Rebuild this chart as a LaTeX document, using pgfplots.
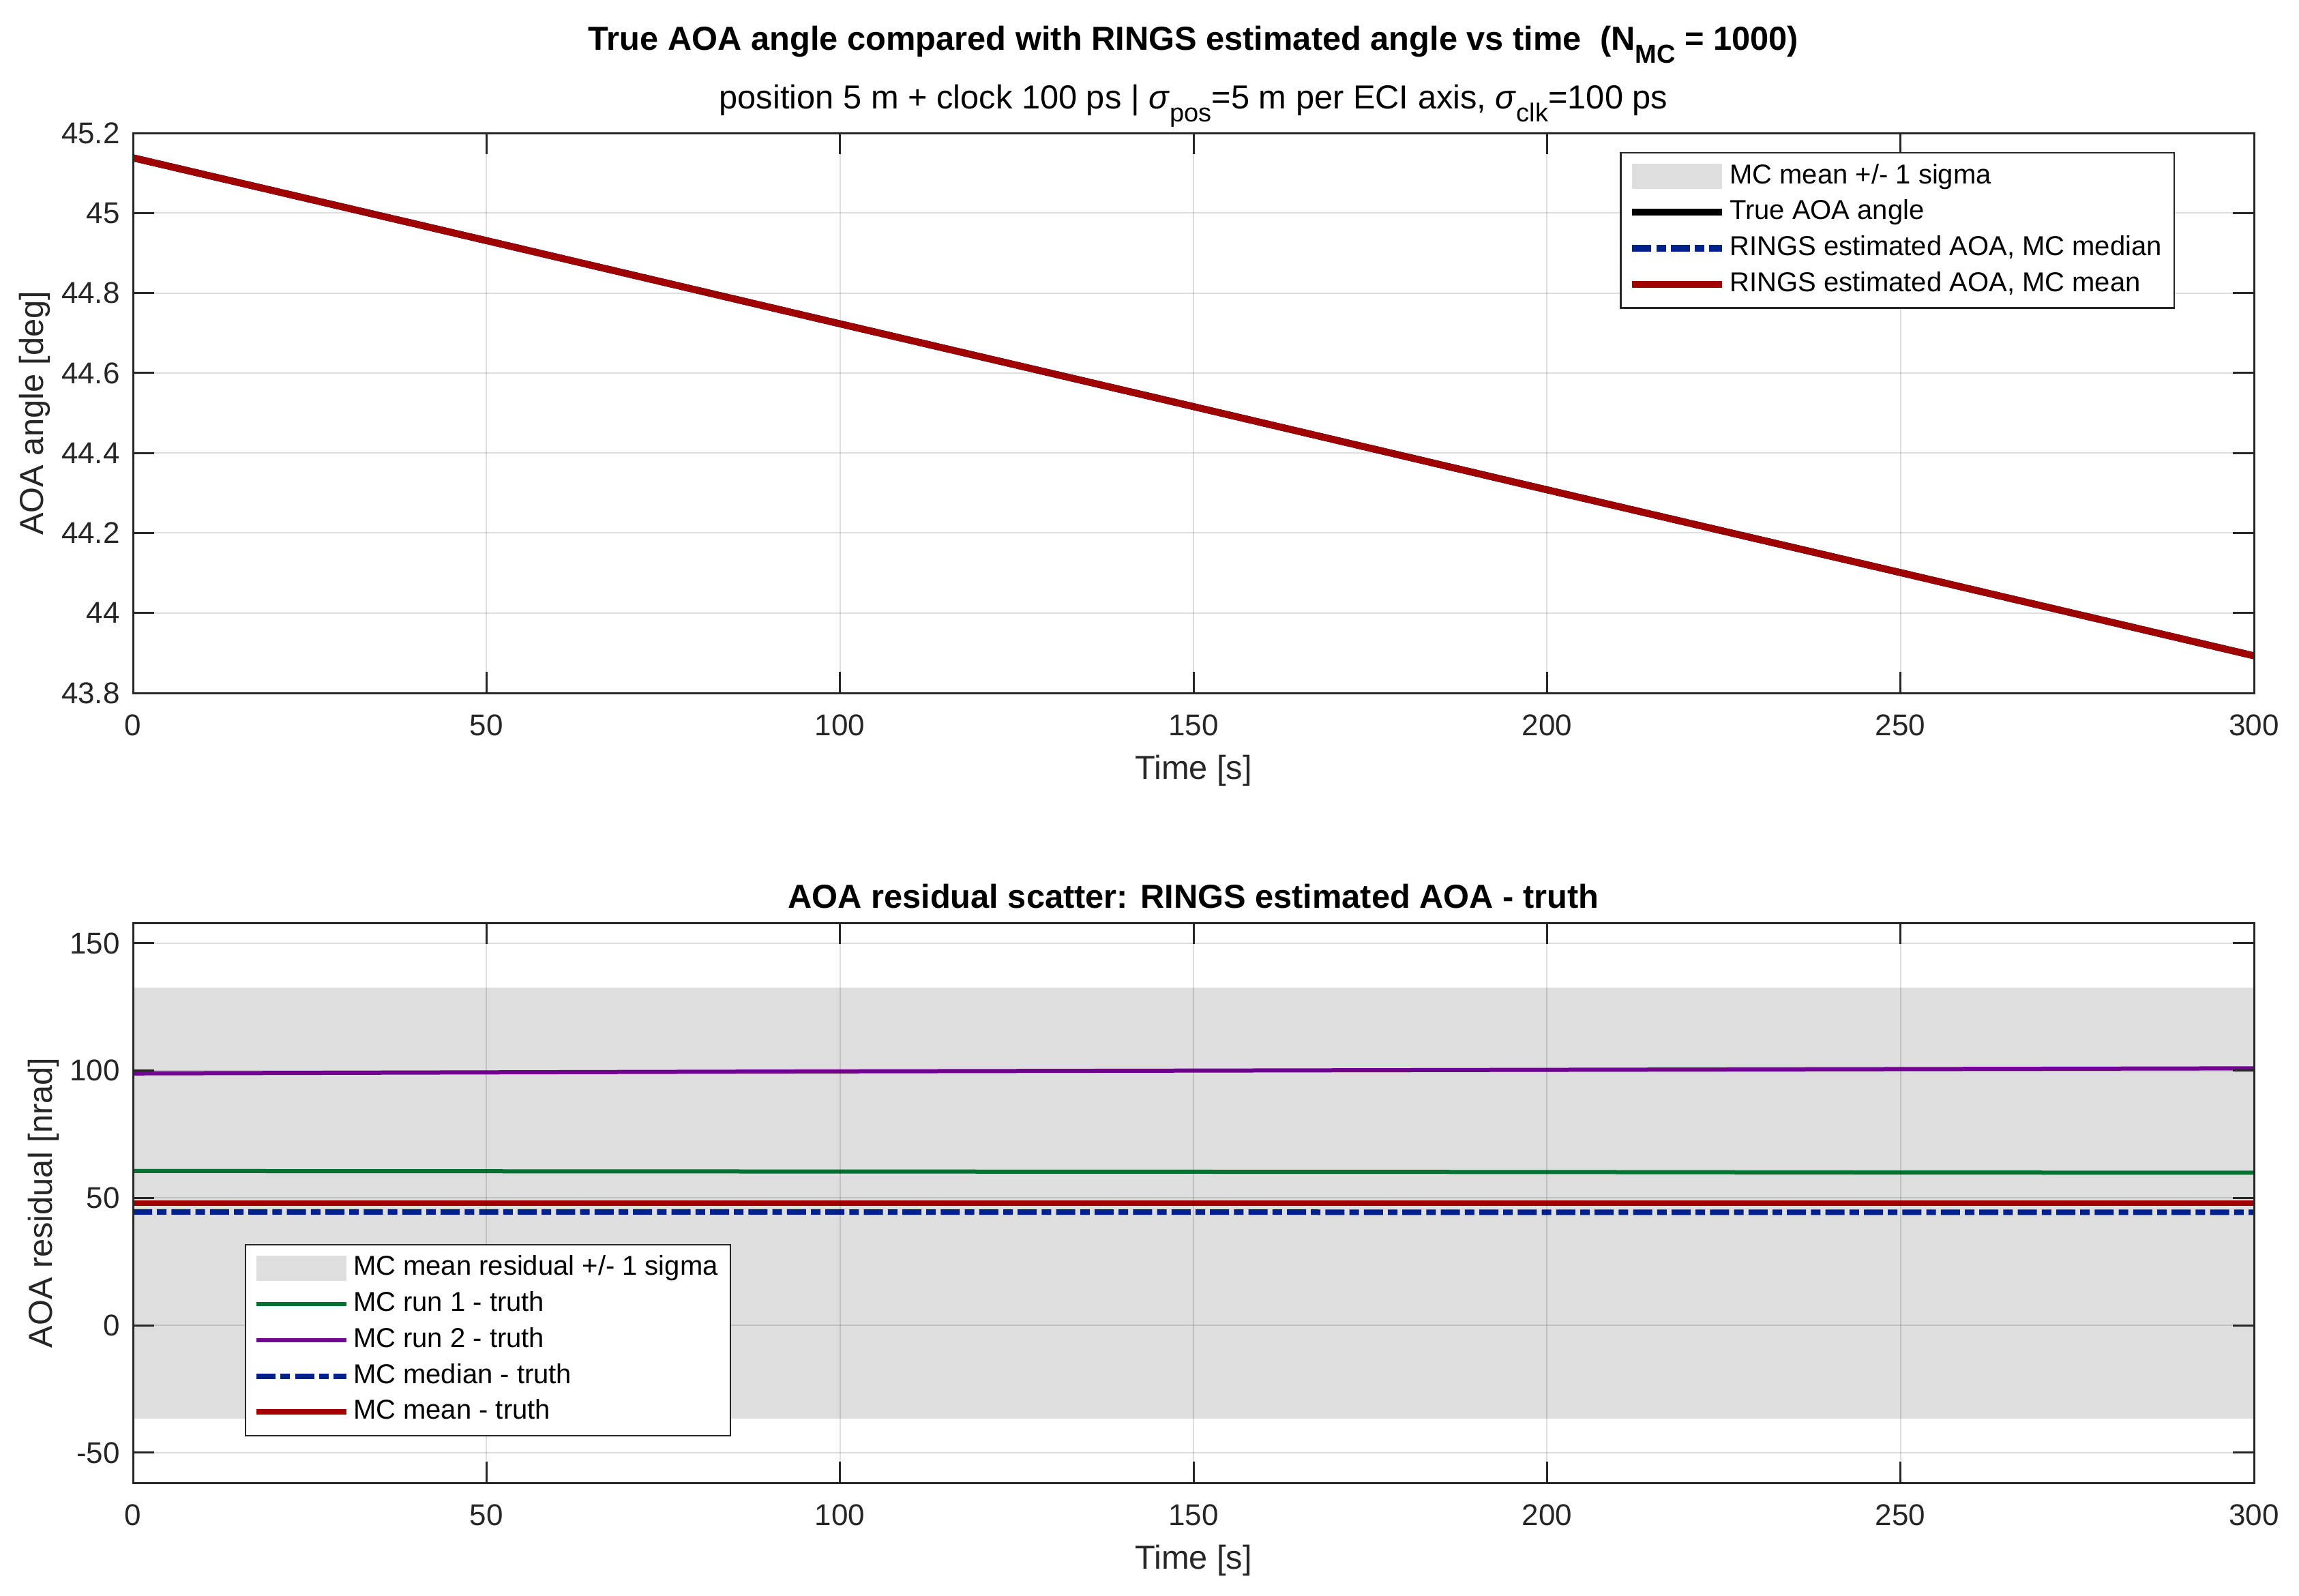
\documentclass[border=0pt]{standalone}
\usepackage{fontspec}
\setmainfont{Liberation Sans}
\usepackage{pgfplots}
\pgfplotsset{compat=1.18}

\definecolor{mred}{RGB}{160,0,0}
\definecolor{mblue}{RGB}{0,32,140}
\definecolor{mgreen}{RGB}{0,115,51}
\definecolor{mpurple}{RGB}{117,0,150}
\definecolor{bandgray}{RGB}{222,222,222}
\definecolor{axgray}{RGB}{38,38,38}

% MATLAB-like subscript
\newcommand{\msub}[1]{\raisebox{-0.4em}{\fontsize{9.5}{10}\selectfont #1}}

\pgfplotsset{
  matlab/.style={
    scale only axis, width=777.5pt, height=205.25pt,
    xmin=0, xmax=300, xtick={0,50,...,300},
    axis line style={draw=axgray, line width=0.75pt},
    tick style={draw=axgray, line width=0.75pt},
    tick align=inside, major tick length=7.8pt,
    grid=major,
    major grid style={draw=black, draw opacity=0.13, line width=0.5pt},
    axis on top,
    /pgf/number format/assume math mode=true,
    ticklabel style={font=\fontsize{11}{13}\selectfont, text=axgray},
    xticklabel style={yshift=-4.4pt},
    yticklabel style={xshift=-1.3pt},
    label style={font=\fontsize{12.2}{14}\selectfont, text=axgray},
    xlabel style={at={(axis description cs:0.5,0)}, anchor=center, yshift=-28.5pt},
    legend cell align=left,
    legend style={font=\fontsize{10}{12}\selectfont, draw=axgray, line width=0.6pt,
      fill=white, inner xsep=3pt, inner ysep=2pt, row sep=0pt,
      nodes={text height=7.2pt, text depth=2pt, inner ysep=2pt, inner xsep=1.5pt}},
    legend image code/.code={\draw[#1] (0pt,0pt) -- (33pt,0pt);},
  },
  dashdot/.style={dash pattern=on 7pt off 1.8pt on 3.5pt off 1.8pt},
  bandlegend/.style={legend image code/.code={\fill[bandgray] (0pt,-4.65pt) rectangle (33pt,4.65pt);}},
}

\begin{document}
\begin{tikzpicture}
\path[use as bounding box] (0,0) rectangle (842.75pt,-584.75pt);

% ---------- top: AOA angle ----------
\begin{axis}[matlab,
    at={(48.75pt,-48.75pt)}, anchor=north west,
    ymin=43.8, ymax=45.2,
    ytick={43.8,44,44.2,44.4,44.6,44.8,45,45.2},
    xlabel={Time [s]},
    ylabel={AOA angle [deg]},
    ylabel style={at={([xshift=-36pt]axis description cs:0,0.5)}, anchor=center},
    legend style={at={(axis description cs:0.9627,0.9659)}, anchor=north east},
    extra description/.code={
      \node[anchor=base, font=\bfseries\fontsize{12.2}{14}\selectfont]
        at ([yshift=30.5pt]axis description cs:0.5,1)
        {True AOA angle compared with RINGS estimated angle vs time\ \ (N\msub{MC} = 1000)};
      \node[anchor=base, font=\fontsize{12.2}{14}\selectfont]
        at ([yshift=9pt]axis description cs:0.5,1)
        {position 5 m + clock 100 ps | \textit{σ}\msub{pos}=5 m per ECI axis, \textit{σ}\msub{clk}=100 ps};
    },
]
\addplot[draw=none, fill=bandgray, bandlegend] coordinates {
  (0,45.138005) (300,43.893005) (300,43.892995) (0,45.137995)} -- cycle;
\addlegendentry{MC mean +/- 1 sigma}
\addplot[black, line width=2.5pt] coordinates {
  (0,45.138) (50,44.931) (100,44.723) (150,44.516) (200,44.308) (250,44.101) (300,43.893)};
\addlegendentry{True AOA angle}
\addplot[mblue, line width=2.5pt, dashdot] coordinates {
  (0,45.138) (50,44.931) (100,44.723) (150,44.516) (200,44.308) (250,44.101) (300,43.893)};
\addlegendentry{RINGS estimated AOA, MC median}
\addplot[mred, line width=2.5pt] coordinates {
  (0,45.138) (50,44.931) (100,44.723) (150,44.516) (200,44.308) (250,44.101) (300,43.893)};
\addlegendentry{RINGS estimated AOA, MC mean}
\end{axis}

% ---------- bottom: residuals ----------
\begin{axis}[matlab,
    at={(48.75pt,-338.25pt)}, anchor=north west,
    ymin=-61.8, ymax=158,
    ytick={-50,0,50,100,150},
    xlabel={Time [s]},
    ylabel={AOA residual [nrad]},
    ylabel style={at={([xshift=-32.75pt]axis description cs:0,0.5)}, anchor=center},
    legend style={at={(axis description cs:0.0527,0.0828)}, anchor=south west},
    extra description/.code={
      \node[anchor=base, font=\bfseries\fontsize{12.2}{14}\selectfont]
        at ([yshift=5.5pt]axis description cs:0.5,1)
        {AOA residual scatter: RINGS estimated AOA - truth};
    },
]
\addplot[draw=none, fill=bandgray, bandlegend] coordinates {
  (0,132.6) (300,132.6) (300,-36.5) (0,-36.5)} -- cycle;
\addlegendentry{MC mean residual +/- 1 sigma}
\addplot[mgreen, line width=1.5pt] coordinates {
  (0,60.6) (50,60.5) (100,60.4) (150,60.3) (200,60.2) (250,60.0) (300,59.9)};
\addlegendentry{MC run 1 - truth}
\addplot[mpurple, line width=1.5pt] coordinates {
  (0,98.9) (50,99.3) (100,99.7) (150,100.0) (200,100.3) (250,100.6) (300,100.9)};
\addlegendentry{MC run 2 - truth}
\addplot[mblue, line width=2pt, dashdot] coordinates {
  (0,44.5) (50,44.5) (100,44.5) (150,44.45) (200,44.4) (250,44.4) (300,44.4)};
\addlegendentry{MC median - truth}
\addplot[mred, line width=2pt] coordinates {
  (0,48.0) (50,48.0) (100,48.0) (150,48.0) (200,48.0) (250,48.0) (300,48.0)};
\addlegendentry{MC mean - truth}
\end{axis}
\end{tikzpicture}
\end{document}
